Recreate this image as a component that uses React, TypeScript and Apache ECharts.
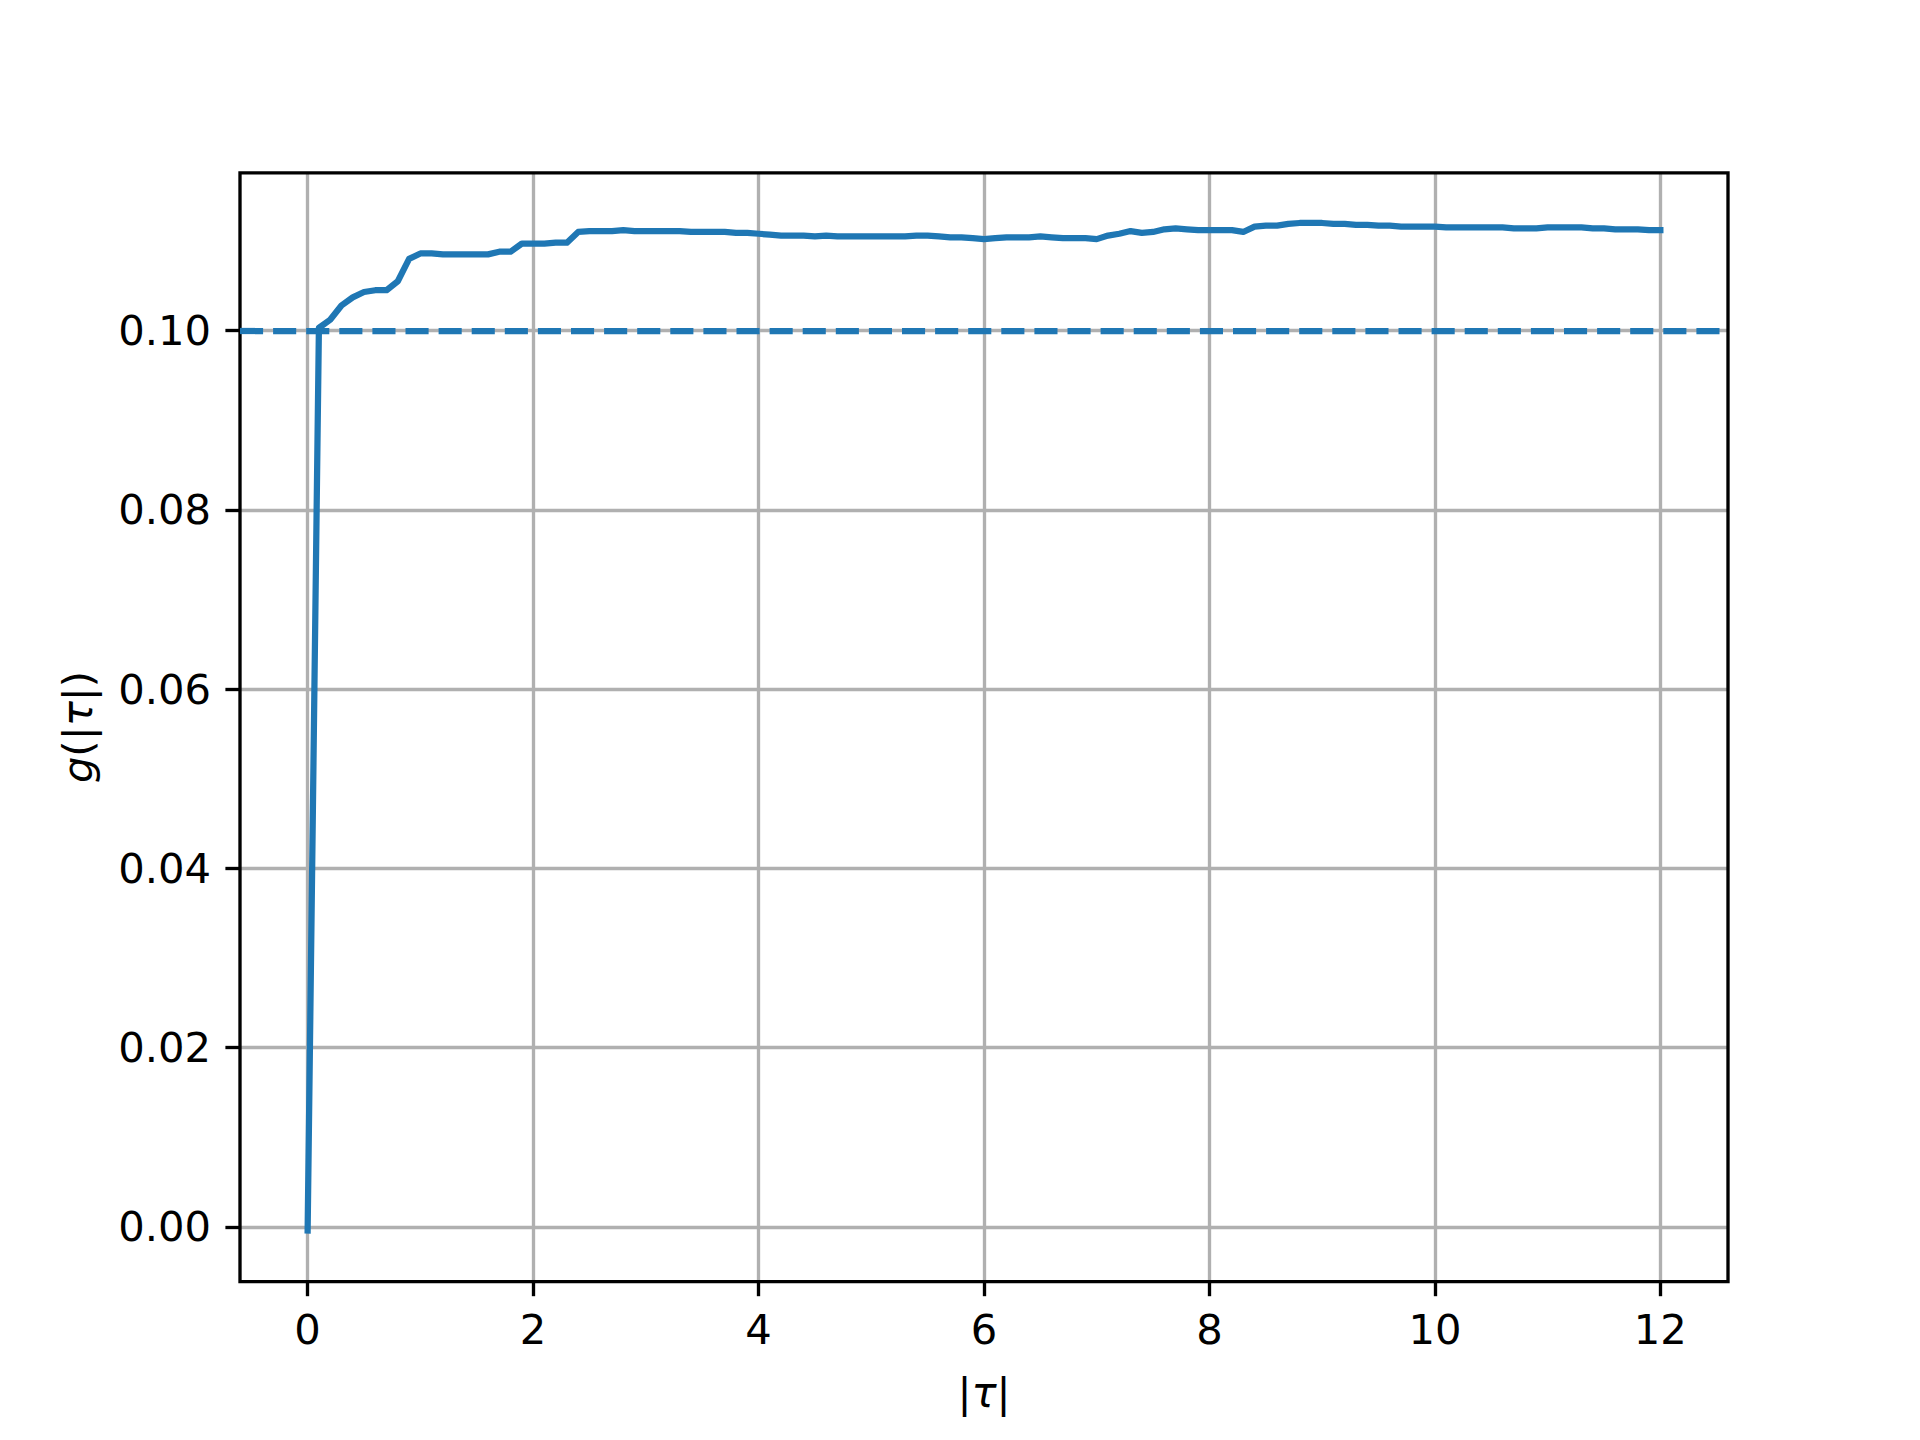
import React, { useEffect, useRef } from "react";
import * as echarts from "echarts";

const tauValues = [
  0.0, 0.1, 0.2, 0.3, 0.4, 0.5, 0.6, 0.7, 0.8, 0.9,
  1.0, 1.1, 1.2, 1.3, 1.4, 1.5, 1.6, 1.7, 1.8, 1.9,
  2.0, 2.1, 2.2, 2.3, 2.4, 2.5, 2.6, 2.7, 2.8, 2.9,
  3.0, 3.1, 3.2, 3.3, 3.4, 3.5, 3.6, 3.7, 3.8, 3.9,
  4.0, 4.1, 4.2, 4.3, 4.4, 4.5, 4.6, 4.7, 4.8, 4.9,
  5.0, 5.1, 5.2, 5.3, 5.4, 5.5, 5.6, 5.7, 5.8, 5.9,
  6.0, 6.1, 6.2, 6.3, 6.4, 6.5, 6.6, 6.7, 6.8, 6.9,
  7.0, 7.1, 7.2, 7.3, 7.4, 7.5, 7.6, 7.7, 7.8, 7.9,
  8.0, 8.1, 8.2, 8.3, 8.4, 8.5, 8.6, 8.7, 8.8, 8.9,
  9.0, 9.1, 9.2, 9.3, 9.4, 9.5, 9.6, 9.7, 9.8, 9.9,
  10.0, 10.1, 10.2, 10.3, 10.4, 10.5, 10.6, 10.7, 10.8, 10.9,
  11.0, 11.1, 11.2, 11.3, 11.4, 11.5, 11.6, 11.7, 11.8, 11.9,
  12.0,
];

const gValues = [
  -0.0004, 0.1003, 0.1012, 0.1028, 0.1037, 0.1043, 0.1045, 0.1045, 0.1055, 0.108,
  0.1086, 0.1086, 0.1085, 0.1085, 0.1085, 0.1085, 0.1085, 0.1088, 0.1088, 0.1097,
  0.1097, 0.1097, 0.1098, 0.1098, 0.111, 0.1111, 0.1111, 0.1111, 0.1112, 0.1111,
  0.1111, 0.1111, 0.1111, 0.1111, 0.111, 0.111, 0.111, 0.111, 0.1109, 0.1109,
  0.1108, 0.1107, 0.1106, 0.1106, 0.1106, 0.1105, 0.1106, 0.1105, 0.1105, 0.1105,
  0.1105, 0.1105, 0.1105, 0.1105, 0.1106, 0.1106, 0.1105, 0.1104, 0.1104, 0.1103,
  0.1102, 0.1103, 0.1104, 0.1104, 0.1104, 0.1105, 0.1104, 0.1103, 0.1103, 0.1103,
  0.1102, 0.1106, 0.1108, 0.1111, 0.1109, 0.111, 0.1113, 0.1114, 0.1113, 0.1112,
  0.1112, 0.1112, 0.1112, 0.111, 0.1116, 0.1117, 0.1117, 0.1119, 0.112, 0.112,
  0.112, 0.1119, 0.1119, 0.1118, 0.1118, 0.1117, 0.1117, 0.1116, 0.1116, 0.1116,
  0.1116, 0.1115, 0.1115, 0.1115, 0.1115, 0.1115, 0.1115, 0.1114, 0.1114, 0.1114,
  0.1115, 0.1115, 0.1115, 0.1115, 0.1114, 0.1114, 0.1113, 0.1113, 0.1113, 0.1112,
  0.1112,
];

const referenceLevel = 0.1;
const xTicks = [0, 2, 4, 6, 8, 10, 12];
const yTicks = [0, 0.02, 0.04, 0.06, 0.08, 0.1];

const BLUE = "#1f77b4";
const FONT = "DejaVu Sans";
const FS = 41.7;

export default function App() {
  const ref = useRef<HTMLDivElement>(null);

  useEffect(() => {
    document.body.style.margin = "0";
    const chart = echarts.init(ref.current!, null, { renderer: "svg" });
    const data = tauValues.map((t, i) => [t, gValues[i]]);
    const grid = { left: 240, right: 192, top: 172.8, bottom: 158.4 };

    chart.setOption({
      animation: false,
      backgroundColor: "#ffffff",
      grid: {
        ...grid,
        show: true,
        borderColor: "#000000",
        borderWidth: 3.33,
        backgroundColor: "transparent",
        z: 3,
      },
      xAxis: {
        type: "value",
        min: -0.6,
        max: 12.6,
        position: "bottom",
        axisLine: { show: false, onZero: false },
        axisTick: {
          show: true,
          inside: false,
          customValues: xTicks,
          length: 14.6,
          lineStyle: { color: "#000", width: 3.33 },
        },
        axisLabel: {
          customValues: xTicks,
          margin: 27,
          color: "#000",
          fontFamily: FONT,
          fontSize: FS,
          formatter: (v: number) => String(v),
        },
        splitLine: {
          show: true,
          lineStyle: { color: "#b0b0b0", width: 3.33 },
        },
      },
      yAxis: {
        type: "value",
        min: -0.0061,
        max: 0.1176,
        position: "left",
        axisLine: { show: false, onZero: false },
        axisTick: {
          show: true,
          inside: false,
          customValues: yTicks,
          length: 14.6,
          lineStyle: { color: "#000", width: 3.33 },
        },
        axisLabel: {
          customValues: yTicks,
          margin: 29,
          color: "#000",
          fontFamily: FONT,
          fontSize: FS,
          formatter: (v: number) => v.toFixed(2),
        },
        splitLine: {
          show: true,
          lineStyle: { color: "#b0b0b0", width: 3.33 },
        },
      },
      series: [
        {
          type: "line",
          data,
          showSymbol: false,
          symbol: "none",
          z: 2,
          lineStyle: { color: BLUE, width: 6.25, cap: "square", join: "round" },
          markLine: {
            silent: true,
            symbol: ["none", "none"],
            label: { show: false },
            lineStyle: { color: BLUE, width: 6.25, type: [23.1, 10], opacity: 1 },
            data: [{ yAxis: referenceLevel }],
            animation: false,
          },
        },
      ],
      graphic: [
        {
          type: "text",
          x: 984,
          y: 1392,
          style: {
            text: "|{i|τ}|",
            fontFamily: FONT,
            fontSize: FS,
            fill: "#000",
            align: "center",
            verticalAlign: "middle",
            rich: { i: { fontStyle: "italic", fontFamily: FONT, fontSize: FS, fill: "#000" } },
          },
        },
        {
          type: "text",
          x: 77,
          y: 727,
          rotation: Math.PI / 2,
          style: {
            text: "{i|g}(|{i|τ}|)",
            fontFamily: FONT,
            fontSize: FS,
            fill: "#000",
            align: "center",
            verticalAlign: "middle",
            rich: { i: { fontStyle: "italic", fontFamily: FONT, fontSize: FS, fill: "#000" } },
          },
        },
      ],
    });

    return () => chart.dispose();
  }, []);

  return <div ref={ref} style={{ width: 1920, height: 1440 }} />;
}
